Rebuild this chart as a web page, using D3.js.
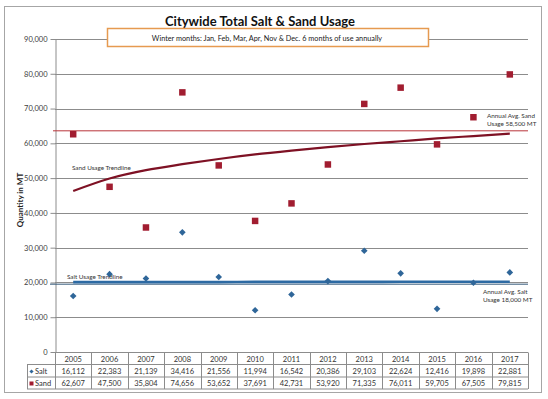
<!DOCTYPE html>
<html>
<head>
<meta charset="utf-8">
<script src="https://cdn.jsdelivr.net/npm/d3@7"></script>
<style>
    body { margin: 0; background: #fff; }
    text { font-family: Lato, "Liberation Sans", sans-serif; }
</style>
</head>
<body>
<script>
var years = ["2005", "2006", "2007", "2008", "2009", "2010", "2011", "2012", "2013", "2014", "2015", "2016", "2017"];
var saltValues = [16112, 22383, 21139, 34416, 21556, 11994, 16542, 20386, 29103, 22624, 12416, 19898, 22881];
var sandValues = [62607, 47500, 35804, 74656, 53652, 37691, 42731, 53920, 71335, 76011, 59705, 67505, 79815];
// trendlines, one value per year
var sandTrend = [46300, 49900, 52300, 54000, 55500, 56800, 57900, 58900, 59800, 60600, 61400, 62100, 62800];
var saltTrend = [20100, 20100, 20100, 20100, 20100, 20150, 20150, 20150, 20150, 20200, 20200, 20200, 20200];
var avgSandLine = 63600;
var avgSaltLine = 19500;
var yTicks = [0, 10000, 20000, 30000, 40000, 50000, 60000, 70000, 80000, 90000];

!function () {
    var fmt = d3.format(",");
    var saltColor = "#2f6699";
    var sandColor = "#a11d30";

    var svg = d3.select("body").append("svg")
        .attr("width", 548)
        .attr("height", 399);

    svg.append("rect")
        .attr("x", 4.5).attr("y", 6.5)
        .attr("width", 537).attr("height", 386)
        .attr("fill", "#fff")
        .attr("stroke", "#a6a6a6");

    var x = d3.scaleBand().domain(years).range([55, 528]);
    var y = d3.scaleLinear().domain([0, 90000]).range([352, 39]);
    var cx = function (d, i) { return x(years[i]) + x.bandwidth() / 2; };

    // gridlines
    svg.append("g").selectAll("line")
        .data(yTicks.slice(1))
        .enter().append("line")
        .attr("x1", 55).attr("x2", 528)
        .attr("y1", function (d) { return Math.round(y(d)) + 0.5; })
        .attr("y2", function (d) { return Math.round(y(d)) + 0.5; })
        .attr("stroke", "#8c8c8c");

    var yAxis = d3.axisLeft(y).tickValues(yTicks).tickFormat(fmt).tickSize(5).tickSizeOuter(0);
    var ga = svg.append("g")
        .attr("transform", "translate(55.5,0)")
        .call(yAxis);
    ga.select(".domain").attr("stroke", "#8c8c8c");
    ga.selectAll(".tick line").attr("stroke", "#8c8c8c");
    ga.selectAll(".tick text")
        .attr("x", -8)
        .attr("font-size", 7.5)
        .attr("fill", "#404040")
        .style("font-family", "Lato, sans-serif");

    svg.append("text")
        .attr("transform", "translate(23,200) rotate(-90)")
        .attr("text-anchor", "middle")
        .attr("font-size", 8)
        .attr("font-weight", "bold")
        .attr("fill", "#222")
        .text("Quantity in MT");

    // average lines
    svg.append("line")
        .attr("x1", 53).attr("x2", 528)
        .attr("y1", y(avgSandLine)).attr("y2", y(avgSandLine))
        .attr("stroke", "#b8343a").attr("stroke-width", 1);
    svg.append("line")
        .attr("x1", 50).attr("x2", 528)
        .attr("y1", y(avgSaltLine)).attr("y2", y(avgSaltLine))
        .attr("stroke", "#35597a").attr("stroke-width", 1);

    // trendlines
    var line = d3.line()
        .x(cx)
        .y(function (d) { return y(d); })
        .curve(d3.curveMonotoneX);
    svg.append("path")
        .attr("d", line(sandTrend))
        .attr("fill", "none")
        .attr("stroke", "#7e1124")
        .attr("stroke-width", 2.2);
    svg.append("path")
        .attr("d", line(saltTrend))
        .attr("fill", "none")
        .attr("stroke", "#2d6aa3")
        .attr("stroke-width", 2.6);

    // points
    svg.append("g").selectAll("path")
        .data(sandValues)
        .enter().append("path")
        .attr("d", d3.symbol().type(d3.symbolSquare).size(42))
        .attr("transform", function (d, i) { return "translate(" + cx(d, i) + "," + y(d) + ")"; })
        .attr("fill", sandColor);
    svg.append("g").selectAll("path")
        .data(saltValues)
        .enter().append("path")
        .attr("d", d3.symbol().type(d3.symbolSquare).size(22))
        .attr("transform", function (d, i) { return "translate(" + cx(d, i) + "," + y(d) + ") rotate(45)"; })
        .attr("fill", saltColor);

    // labels on the plot
    var small = function (tx, ty, s) {
        svg.append("text")
            .attr("x", tx).attr("y", ty)
            .attr("font-size", 6.3)
            .attr("fill", "#333")
            .text(s);
    };
    small(72, 170, "Sand Usage Trendline");
    small(67, 279, "Salt Usage Trendline");
    small(487, 118, "Annual Avg. Sand");
    small(487, 125.5, "Usage 58,500 MT");
    small(483, 294, "Annual Avg. Salt");
    small(483, 301.5, "Usage 18,000 MT");

    // title and note box
    svg.append("text")
        .attr("x", 260).attr("y", 26)
        .attr("text-anchor", "middle")
        .attr("font-size", 14)
        .attr("font-weight", "bold")
        .attr("fill", "#111")
        .attr("textLength", 190)
        .attr("lengthAdjust", "spacingAndGlyphs")
        .text("Citywide Total Salt & Sand Usage");
    svg.append("rect")
        .attr("x", 107.5).attr("y", 28.5)
        .attr("width", 321).attr("height", 18)
        .attr("fill", "#fff")
        .attr("stroke", "#e69a50")
        .attr("stroke-width", 1.5);
    svg.append("text")
        .attr("x", 267).attr("y", 40.5)
        .attr("text-anchor", "middle")
        .attr("font-size", 7.3)
        .attr("fill", "#222")
        .text("Winter months: Jan, Feb, Mar, Apr, Nov & Dec. 6 months of use annually");

    // data table
    var rows = [352.5, 364.5, 377, 389];
    var tg = svg.append("g").attr("stroke", "#8c8c8c").attr("stroke-width", 1);
    tg.append("line").attr("x1", 55).attr("x2", 528).attr("y1", rows[0]).attr("y2", rows[0]);
    tg.selectAll("line.h")
        .data(rows.slice(1))
        .enter().append("line")
        .attr("x1", 27).attr("x2", 528)
        .attr("y1", function (d) { return d; }).attr("y2", function (d) { return d; });
    tg.selectAll("line.v")
        .data(years.concat(["end"]))
        .enter().append("line")
        .attr("x1", function (d, i) { return Math.round(55 + i * x.step()) + 0.5; })
        .attr("x2", function (d, i) { return Math.round(55 + i * x.step()) + 0.5; })
        .attr("y1", rows[0]).attr("y2", rows[3]);
    tg.append("line").attr("x1", 27.5).attr("x2", 27.5).attr("y1", rows[1]).attr("y2", rows[3]);

    var rowText = function (vals, ty) {
        svg.append("g").selectAll("text")
            .data(vals)
            .enter().append("text")
            .attr("x", cx)
            .attr("y", ty)
            .attr("text-anchor", "middle")
            .attr("font-size", 7.5)
            .attr("fill", "#333")
            .text(function (d) { return typeof d === "number" ? fmt(d) : d; });
    };
    rowText(years, 361.5);
    rowText(saltValues, 374);
    rowText(sandValues, 386);

    svg.append("path")
        .attr("d", d3.symbol().type(d3.symbolSquare).size(9))
        .attr("transform", "translate(31.5,371.5) rotate(45)")
        .attr("fill", saltColor);
    svg.append("rect")
        .attr("x", 29.5).attr("y", 381.5).attr("width", 4).attr("height", 4)
        .attr("fill", sandColor);
    small(35, 374, "Salt");
    small(35, 386, "Sand");
    svg.selectAll("text").filter(function () { return this.textContent === "Salt" || this.textContent === "Sand"; })
        .attr("font-size", 7.5);
}();
</script>
</body>
</html>
